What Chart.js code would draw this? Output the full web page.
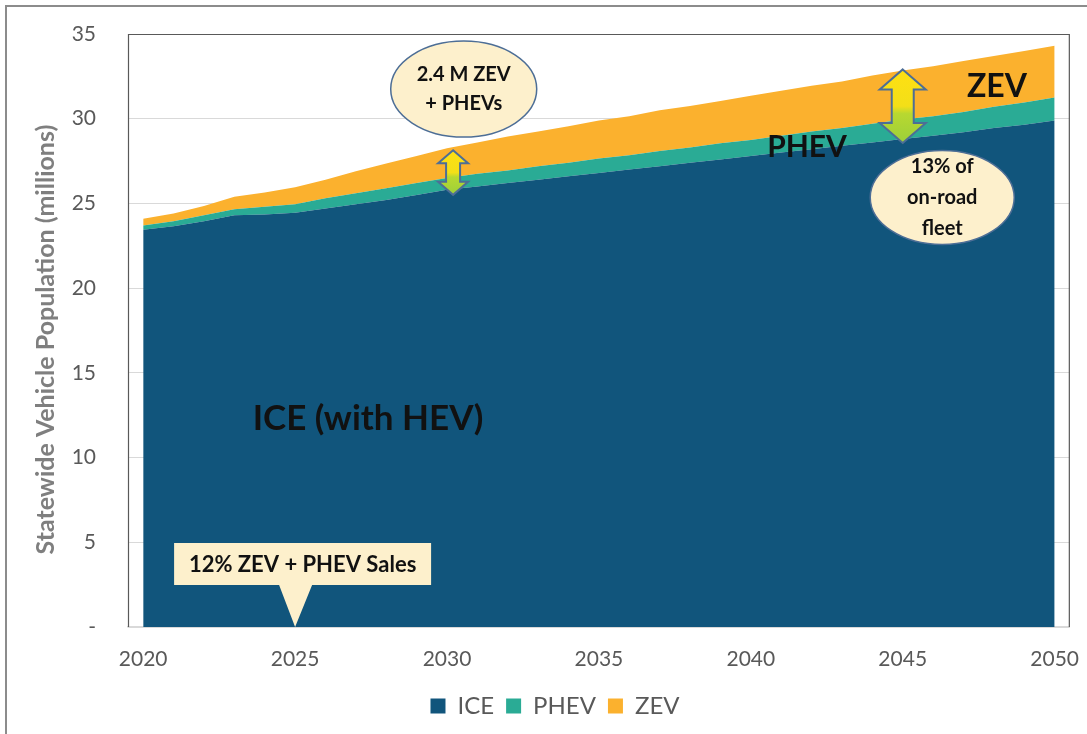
<!DOCTYPE html>
<html><head><meta charset="utf-8">
<script src="https://cdn.jsdelivr.net/npm/chart.js@4.4.0/dist/chart.umd.min.js"></script>
<style>
html,body{margin:0;padding:0;background:#fff;overflow:hidden}
#wrap{position:relative;width:1087px;height:734px;overflow:hidden}
#frame{position:absolute;left:5px;top:5px;width:1200px;height:900px;border:2px solid #8c8c8c;box-sizing:border-box}
canvas{position:absolute;left:0;top:0}
</style></head><body>
<div id="wrap"><div id="frame"></div><canvas id="c" width="1087" height="734"></canvas></div>
<script>
const years = [2020,2021,2022,2023,2024,2025,2026,2027,2028,2029,2030,2031,2032,2033,2034,2035,2036,2037,2038,2039,2040,2041,2042,2043,2044,2045,2046,2047,2048,2049,2050];
const iceValues = [23.45,23.65,23.95,24.3,24.35,24.45,24.7,24.95,25.2,25.5,25.8,26.0,26.2,26.4,26.6,26.8,27.0,27.2,27.4,27.6,27.8,28.0,28.2,28.4,28.6,28.8,29.0,29.2,29.45,29.65,29.9];
const phevValues = [0.25,0.3,0.35,0.35,0.45,0.5,0.6,0.65,0.7,0.7,0.7,0.75,0.75,0.8,0.8,0.85,0.85,0.9,0.9,0.95,0.95,1.0,1.05,1.05,1.1,1.15,1.15,1.2,1.25,1.3,1.35];
const zevValues = [0.4,0.45,0.55,0.75,0.85,1.0,1.1,1.3,1.45,1.6,1.75,1.85,2.0,2.05,2.15,2.25,2.3,2.4,2.45,2.5,2.6,2.65,2.7,2.75,2.85,2.9,2.95,3.0,3.0,3.05,3.05];
const xTickLabels = [2020,2025,2030,2035,2040,2045,2050];
const yTickValues = [0,5,10,15,20,25,30,35];
const seriesNames = ['ICE','PHEV','ZEV'];
const seriesColors = ['#11557c','#2aab95','#fbb12e'];

const FONT = 'Lato, "Open Sans", sans-serif';
const CREAM = '#fdf0cc';

function pts(vals){ return years.map((y,i)=>({x:y,y:vals[i]})); }
function idx(year){ return years.indexOf(year); }

function dblArrow(ctx, cx, yTop, yBot, headW, headH, shaftW){
  ctx.save();
  ctx.beginPath();
  ctx.moveTo(cx, yTop);
  ctx.lineTo(cx+headW/2, yTop+headH);
  ctx.lineTo(cx+shaftW/2, yTop+headH);
  ctx.lineTo(cx+shaftW/2, yBot-headH);
  ctx.lineTo(cx+headW/2, yBot-headH);
  ctx.lineTo(cx, yBot);
  ctx.lineTo(cx-headW/2, yBot-headH);
  ctx.lineTo(cx-shaftW/2, yBot-headH);
  ctx.lineTo(cx-shaftW/2, yTop+headH);
  ctx.lineTo(cx-headW/2, yTop+headH);
  ctx.closePath();
  const g = ctx.createLinearGradient(0,yTop,0,yBot);
  g.addColorStop(0,'#ffe012');
  g.addColorStop(0.5,'#f3df18');
  g.addColorStop(0.6,'#b8d830');
  g.addColorStop(1,'#9ccf3a');
  ctx.fillStyle = g; ctx.fill();
  ctx.strokeStyle = '#4d6e96'; ctx.lineWidth = 2; ctx.lineJoin='miter'; ctx.stroke();
  ctx.restore();
}
function ellipseNote(ctx, cx, cy, rx, ry, lines, lineGap, size){
  ctx.save();
  ctx.beginPath(); ctx.ellipse(cx,cy,rx,ry,0,0,Math.PI*2);
  ctx.fillStyle = CREAM; ctx.fill();
  ctx.strokeStyle = '#4d6e96'; ctx.lineWidth = 1.5; ctx.stroke();
  ctx.fillStyle = '#111'; ctx.font = 'bold '+size+'px '+FONT;
  ctx.textAlign='center'; ctx.textBaseline='middle';
  const y0 = cy - (lines.length-1)*lineGap/2;
  lines.forEach((t,i)=>ctx.fillText(t, cx, y0+i*lineGap));
  ctx.restore();
}

const annotPlugin = {
  id:'annot',
  afterDatasetsDraw(chart){
    const ctx = chart.ctx, a = chart.chartArea, xs = chart.scales.x, ys = chart.scales.y;
    ctx.save();
    // plot box border (top, left, right)
    ctx.strokeStyle = '#595959'; ctx.lineWidth = 1.2;
    ctx.beginPath();
    ctx.moveTo(a.left+0.5, a.bottom); ctx.lineTo(a.left+0.5, a.top+0.5);
    ctx.lineTo(a.right-0.5, a.top+0.5); ctx.lineTo(a.right-0.5, a.bottom);
    ctx.stroke();
    // big labels
    ctx.fillStyle = '#111'; ctx.textAlign='center'; ctx.textBaseline='middle';
    ctx.font = 'bold 35px '+FONT;
    ctx.fillText('ICE (with HEV)', xs.getPixelForValue(2027.4), ys.getPixelForValue(12.3));
    ctx.font = 'bold 30px '+FONT;
    ctx.fillText('PHEV', xs.getPixelForValue(2041.85), ys.getPixelForValue(28.3));
    ctx.font = 'bold 32px '+FONT;
    ctx.fillText('ZEV', xs.getPixelForValue(2048.1), ys.getPixelForValue(31.9));
    // arrows
    const i30 = idx(2030), i45 = idx(2045);
    const tot30 = iceValues[i30]+phevValues[i30]+zevValues[i30];
    const tot45 = iceValues[i45]+phevValues[i45]+zevValues[i45];
    dblArrow(ctx, xs.getPixelForValue(2030.2), ys.getPixelForValue(tot30)+2, ys.getPixelForValue(iceValues[i30])+5, 30, 13, 14);
    dblArrow(ctx, xs.getPixelForValue(2045), ys.getPixelForValue(tot45)-1, ys.getPixelForValue(iceValues[i45])+4, 46, 20, 22);
    // ellipses
    ellipseNote(ctx, xs.getPixelForValue(2030.55), ys.getPixelForValue(31.75), 73, 48, ['2.4 M ZEV','+ PHEVs'], 29, 20);
    ellipseNote(ctx, xs.getPixelForValue(2046.3), ys.getPixelForValue(25.35), 72, 47, ['13% of','on-road','fleet'], 31, 20);
    // callout
    const tipX = xs.getPixelForValue(2025), tipY = ys.getPixelForValue(0);
    const bx = tipX-121, by = tipY-84, bw = 257, bh = 42;
    ctx.beginPath();
    ctx.moveTo(bx,by); ctx.lineTo(bx+bw,by); ctx.lineTo(bx+bw,by+bh);
    ctx.lineTo(tipX+17,by+bh); ctx.lineTo(tipX,tipY); ctx.lineTo(tipX-16,by+bh);
    ctx.lineTo(bx,by+bh); ctx.closePath();
    ctx.fillStyle = CREAM; ctx.fill();
    ctx.fillStyle = '#111'; ctx.font = 'bold 22px '+FONT;
    ctx.fillText('12% ZEV + PHEV Sales', bx+bw/2, by+bh/2+1);
    ctx.restore();
  }
};

new Chart(document.getElementById('c').getContext('2d'), {
  type:'line',
  data:{datasets:[
    {label:seriesNames[0], data:pts(iceValues), backgroundColor:seriesColors[0], borderColor:seriesColors[0], borderWidth:0, pointRadius:0, fill:'origin', tension:0},
    {label:seriesNames[1], data:pts(phevValues), backgroundColor:seriesColors[1], borderColor:seriesColors[1], borderWidth:0, pointRadius:0, fill:'-1', tension:0},
    {label:seriesNames[2], data:pts(zevValues), backgroundColor:seriesColors[2], borderColor:seriesColors[2], borderWidth:0, pointRadius:0, fill:'-1', tension:0}
  ]},
  options:{
    responsive:false, animation:false, devicePixelRatio:1,
    layout:{padding:{left:23,top:34,right:0,bottom:6}},
    scales:{
      x:{type:'linear', min:2019.5, max:2050.5,
        afterBuildTicks:s=>{ s.ticks = xTickLabels.map(v=>({value:v})); },
        afterFit:s=>{ s.height = 55; },
        grid:{display:false, drawTicks:true, tickLength:12, tickColor:'rgba(0,0,0,0)'},
        border:{display:true, color:'#d9d9d9', width:1.5},
        ticks:{padding:8, color:'#595959', font:{family:FONT,size:21}, callback:v=>String(v), maxRotation:0, autoSkip:false}},
      y:{stacked:true, min:0, max:35,
        afterBuildTicks:s=>{ s.ticks = yTickValues.map(v=>({value:v})); },
        afterFit:s=>{ s.width = 105; },
        grid:{color:'#d9d9d9', drawTicks:true, tickLength:29, tickColor:'rgba(0,0,0,0)', lineWidth:1},
        border:{display:false},
        ticks:{padding:3, color:'#595959', font:{family:FONT,size:21}, callback:v=> v===0 ? '-' : String(v)},
        title:{display:true, text:'Statewide Vehicle Population (millions)\u00a0\u00a0\u00a0', color:'#7f7f7f', font:{family:FONT,size:25,weight:'bold'}, padding:{top:8,bottom:8}}}
    },
    plugins:{
      legend:{position:'bottom', labels:{boxWidth:15, boxHeight:15, color:'#595959', font:{family:FONT,size:24}, padding:12}},
      tooltip:{enabled:false}
    }
  },
  plugins:[annotPlugin]
});
</script>
</body></html>
